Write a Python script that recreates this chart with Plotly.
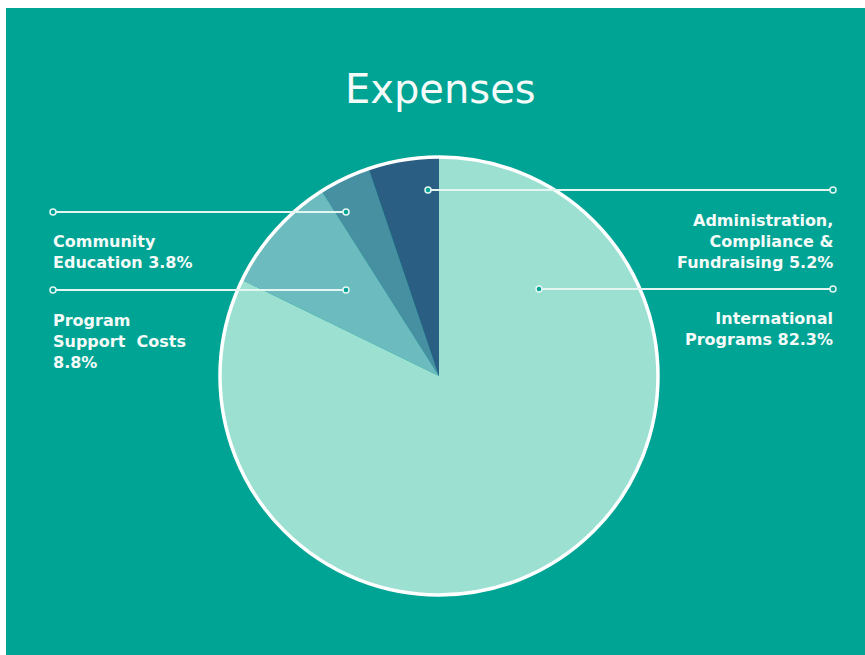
import plotly.graph_objects as go

W, H = 865, 655

# ---- data ----
categories = ["International Programs", "Program Support Costs",
              "Community Education", "Administration, Compliance & Fundraising"]
values = [82.3, 8.8, 3.8, 5.2]
label_texts = ["International<br>Programs 82.3%",
               "Program<br>Support  Costs<br>8.8%",
               "Community<br>Education 3.8%",
               "Administration,<br>Compliance &<br>Fundraising 5.2%"]
slice_colors = ["#9BE0D1", "#6CBBBE", "#4790A2", "#2A5E83"]

BG = "#00A494"
LINE = "#E4F6F1"
TXT = "#F4FBF9"


def px(x):
    return x / W


def py(y):
    return 1 - y / H


cx, cy, r = 439, 376, 219

fig = go.Figure()
fig.add_trace(go.Pie(
    labels=categories, values=values, sort=False, direction="clockwise",
    rotation=0, marker=dict(colors=slice_colors, line=dict(width=0)),
    textinfo="none", hoverinfo="label+percent", showlegend=False,
    domain=dict(x=[px(cx - r), px(cx + r)], y=[py(cy + r), py(cy - r)]),
))
# outer white ring
fig.add_trace(go.Pie(
    labels=["outline"], values=[1], sort=False,
    marker=dict(colors=["rgba(0,0,0,0)"], line=dict(color="white", width=3.5)),
    textinfo="none", hoverinfo="skip", showlegend=False,
    domain=dict(x=[px(cx - r), px(cx + r)], y=[py(cy + r), py(cy - r)]),
))

shapes = [dict(type="rect", xref="paper", yref="paper", x0=px(6), x1=1, y0=0, y1=py(8),
               fillcolor=BG, line=dict(width=0), layer="below")]

# leader lines: (x_left, x_right, y)
leaders = [(539, 833, 289), (53, 346, 290), (53, 346, 212), (428, 833, 190)]
for x0, x1, y in leaders:
    shapes.append(dict(type="line", xref="paper", yref="paper", x0=px(x0), x1=px(x1),
                       y0=py(y), y1=py(y), line=dict(color=LINE, width=2), layer="above"))
    for xc in (x0, x1):
        shapes.append(dict(type="circle", xref="paper", yref="paper",
                           x0=px(xc - 3), x1=px(xc + 3), y0=py(y + 3), y1=py(y - 3),
                           fillcolor=BG, line=dict(color=LINE, width=1.5), layer="above"))

# label positions: (x, y_center, anchor)
label_pos = [(835, 329, "right"), (51, 341, "left"), (51, 252, "left"), (835, 241, "right")]
annotations = []
for txt, (x, y, anc) in zip(label_texts, label_pos):
    annotations.append(dict(text=txt, x=px(x), y=py(y), xref="paper", yref="paper",
                            xanchor=anc, yanchor="middle", align=anc, showarrow=False,
                            font=dict(family="DejaVu Sans", size=16, color=TXT, weight="bold")))

annotations.append(dict(text="Expenses", x=px(440), y=py(89), xref="paper", yref="paper",
                        xanchor="center", yanchor="middle", showarrow=False,
                        font=dict(family="DejaVu Sans", size=40, color=TXT)))

fig.update_layout(
    width=W, height=H, margin=dict(l=0, r=0, t=0, b=0),
    paper_bgcolor="white", plot_bgcolor="rgba(0,0,0,0)",
    shapes=shapes, annotations=annotations,
)

fig.write_html("out.html")
